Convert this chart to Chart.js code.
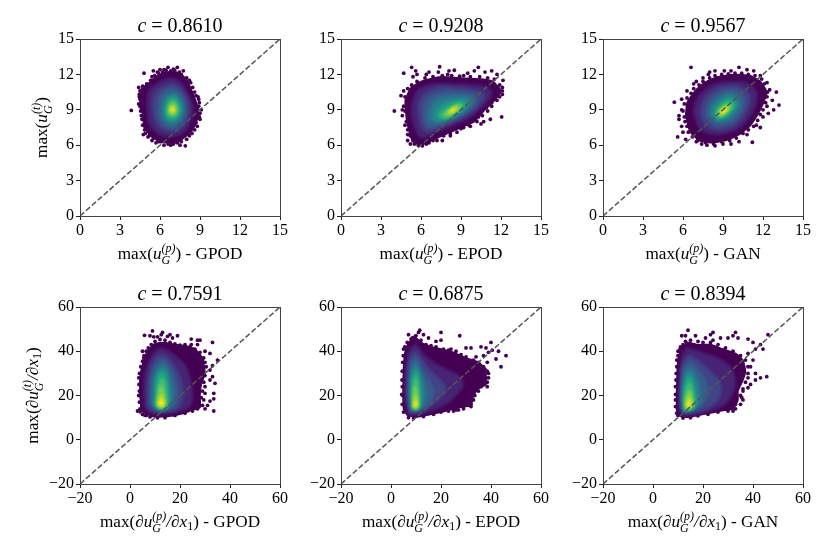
<!DOCTYPE html>
<html><head><meta charset="utf-8">
<style>html,body{margin:0;padding:0;background:#fff;width:830px;height:554px;overflow:hidden}canvas{position:absolute;filter:blur(0.4px)}</style>
<script src="https://cdn.jsdelivr.net/npm/chart.js@4"></script>
</head><body>
<script>
const coefficients=["0.8610","0.9208","0.9567","0.7591","0.6875","0.8394"];
const methods=["GPOD","EPOD","GAN"];
const ticksU=[0,3,6,9,12,15];
const ticksGrad=[-20,0,20,40,60];
const densityColors=['#440154','#482475','#414487','#355f8d','#2a788e','#21918c','#22a884','#44bf70','#7ad151','#bddf26','#fde725'];

const contoursUGpod=[
[4.6,10.8,5.2,11.3,5.8,11.9,6.5,12.2,7.2,12.2,7.8,11.8,8.2,11.1,8.6,10,8.9,9,8.8,8.2,8.5,7.4,7.9,6.7,7.2,6.2,6.5,6.2,5.8,6.4,5.2,6.9,4.8,7.6,4.7,8.6,4.5,9.6],
[5,9.5,5.2,10.7,6,11.4,6.9,11.7,7.6,11.3,8.1,10.4,8.5,9.2,8.3,8,7.8,7.1,6.9,6.7,5.9,6.9,5.2,7.8],
[5.4,9.3,5.6,10.4,6.3,11,7,11.2,7.6,10.8,8.1,9.8,8.2,8.8,7.9,7.8,7.2,7.2,6.4,7.2,5.7,7.9],
[5.8,9.2,6,10.2,6.5,10.7,7,10.8,7.6,10.4,7.9,9.4,7.9,8.5,7.5,7.7,6.9,7.4,6.3,7.6,5.9,8.3],
[6.1,9.1,6.3,10,6.8,10.4,7.2,10.4,7.6,9.8,7.8,9,7.6,8.2,7.1,7.8,6.6,7.8,6.2,8.3],
[6.3,9.1,6.45,9.8,6.85,10.2,7.25,10.1,7.55,9.5,7.65,8.9,7.4,8.3,7,8,6.6,8.1,6.35,8.5],
[6.45,9.1,6.6,9.7,6.9,10,7.2,9.9,7.45,9.4,7.5,8.9,7.3,8.4,6.95,8.2,6.6,8.3,6.45,8.7],
[6.55,9.1,6.7,9.6,6.95,9.8,7.2,9.6,7.35,9.1,7.3,8.6,7,8.4,6.7,8.45,6.55,8.75],
[6.65,9,6.75,9.4,6.95,9.55,7.15,9.4,7.25,9,7.15,8.65,6.9,8.55,6.7,8.7],
[6.72,9,6.8,9.25,6.95,9.35,7.1,9.2,7.12,8.9,6.95,8.75,6.78,8.8],
[6.82,9,6.9,9.15,7.02,9.1,7.05,8.92,6.9,8.85]];
const scatterUGpod=[3.85,8.95,4.8,12.1,5.5,12.3,6,12.4,6.6,12.6,7.3,12.6,7.75,12.3,7.9,5.95,7.5,6,6.8,6,6.3,6,5.7,6.2,5.4,6.4,4.9,7,4.75,6.9,4.4,10.9,4.5,9.9,4.4,9.5,4.45,10.3,8.9,9.9,9.1,9,9,8.2,8.8,7.6,8.4,7,8.2,6.8,8.9,9.3,4.6,9.2,4.65,8.2,4.9,7.5,5.1,6.7,5.9,12.1,5.4,11.8,7.1,12.35,6.3,12.4,8.3,11.3,8.7,10.2,
4.5,10.6,4.7,11,5,11.2,5.3,11.5,5.6,11.9,5.8,12.2,6.2,12.2,6.45,12.35,6.8,12.3,7,12.45,7.45,12.2,7.6,12,8,11.7,8.2,11.5,8.45,10.9,8.6,10.5,8.85,10.1,8.95,9.6,9,8.7,8.95,8.4,8.7,7.9,8.6,7.3,8.3,7.2,8,6.5,7.6,6.3,7.3,6.2,7,6.1,6.6,6.1,6.1,6.3,5.9,6.3,5.5,6.6,5.2,6.8,4.85,7.3,4.7,7.7,4.6,8.5,4.55,8.9,4.5,9.3,4.45,10.1];

const contoursUEpod=[
[4.8,9.8,5.2,10.8,6,11.4,7.5,11.8,9,11.7,10.5,11.6,11.4,11.4,12,10.6,11.6,9.9,10.8,9,10,8,9,7.5,8,7,7,6.5,6,6,5.4,6.3,5.1,7.2,4.9,8.3],
[5.3,9.5,5.7,10.6,6.8,11.2,8.5,11.2,10.2,11.1,11.2,10.8,11.2,10,10.4,9,9.5,8.2,8.3,7.6,7,7,6,6.6,5.6,7.3,5.3,8.4],
[5.8,9.5,6.2,10.3,7.2,10.9,8.6,10.9,10,10.7,10.8,10.3,10.4,9.4,9.6,8.6,8.5,8,7.3,7.4,6.4,7.1,5.9,8],
[6.2,9.2,6.6,10,7.5,10.5,8.8,10.5,10,10.3,10.2,9.7,9.6,8.9,8.6,8.2,7.4,7.7,6.6,7.5,6.2,8.3],
[6.6,8.9,7,9.7,7.9,10.1,9,10.2,9.9,9.9,9.6,9.1,8.8,8.5,7.8,8,7,7.9,6.6,8.2],
[6.9,8.6,7.3,9.3,8.2,9.8,9.2,9.9,9.6,9.6,9.2,9,8.6,8.5,7.7,8.1,7.1,8.1],
[7.2,8.5,7.6,9.1,8.4,9.6,9.2,9.7,9.3,9.3,8.8,8.8,8.1,8.3,7.5,8.2],
[7.4,8.5,7.9,9,8.6,9.5,9.1,9.5,9,9.1,8.5,8.7,7.9,8.3],
[7.7,8.6,8.1,9,8.6,9.35,8.95,9.35,8.8,9,8.4,8.7,8,8.5],
[7.95,8.75,8.3,9.05,8.65,9.25,8.75,9.1,8.4,8.85,8.1,8.65],
[8.15,8.85,8.4,9.05,8.6,9.12,8.55,8.98,8.3,8.82]];
const scatterUEpod=[4,8.9,4.6,9,4.7,12.1,5.3,12.6,5.6,12.3,5.4,11.8,5.7,12,6.4,12,6.6,12.2,7.3,12.2,7.4,12.65,8,12,8.1,12.3,8.5,12.35,9.5,12.1,9.2,11.9,10,12.3,10.3,12.6,10.8,12.2,11.3,12.3,11.7,12,12.15,11.5,12.1,10.6,11.9,10.1,11.3,9.6,10.9,9.2,12.05,8.4,11.2,8.2,10.7,8,10.5,7.8,9.6,7.7,9,7.4,8.2,6.8,7.6,6.4,6.6,6.2,6.1,5.95,5.5,6.1,5.2,6.1,5,6.4,5,6.9,4.8,7.7,4.6,8.5,4.5,10.2,4.7,10.6,9.5,8,10.3,8.4,
4.7,9.3,4.8,10.1,5,10.8,5.3,11.1,5.7,11.4,6.3,11.7,6.9,11.8,7.6,11.9,8.3,11.9,8.9,11.85,9.7,11.8,10.4,11.8,11,11.7,11.5,11.6,11.9,11.1,12.1,10.9,12.1,10.3,11.7,9.8,11.3,9.3,11,8.9,10.6,8.5,10.2,8,9.7,7.6,9.2,7.5,8.7,7.1,8.2,7,7.7,6.8,7.2,6.4,6.9,6.4,6.4,6.1,5.8,6,5.4,6.4,5.2,6.8,5,7.3,4.9,8,4.8,8.9];

const contoursUGan=[
[6.2,8.5,6.3,9.6,6.9,10.6,7.6,11.3,8.6,11.8,9.8,12,11,11.9,11.8,11.4,12.3,10.5,12,9.5,11.6,8.6,11,7.6,10.2,6.9,9.2,6.4,8.2,6.2,7.2,6.4,6.5,7.2],
[6.8,8.6,6.9,9.6,7.5,10.6,8.4,11.2,9.6,11.4,10.8,11.3,11.5,10.6,11.5,9.6,11,8.4,10.3,7.5,9.3,7,8.2,6.9,7.3,7.3],
[7.3,8.6,7.5,9.7,8.2,10.6,9.2,11,10.4,10.9,11,10.2,10.9,9.2,10.4,8.2,9.6,7.5,8.5,7.3,7.7,7.7],
[7.7,8.6,7.9,9.6,8.5,10.3,9.4,10.7,10.3,10.5,10.6,9.8,10.4,8.8,9.8,8,9,7.7,8.2,7.8],
[8,8.6,8.2,9.5,8.8,10.1,9.5,10.4,10.1,10.1,10.3,9.5,10,8.7,9.4,8.1,8.6,8],
[8.2,8.6,8.4,9.3,9,9.9,9.6,10.1,10,9.8,10,9.2,9.6,8.6,9,8.2,8.5,8.1],
[8.4,8.6,8.6,9.2,9.1,9.7,9.6,9.85,9.9,9.5,9.7,9,9.3,8.5,8.8,8.3],
[8.5,8.6,8.7,9.1,9.2,9.55,9.6,9.6,9.7,9.3,9.5,8.9,9.1,8.5,8.7,8.35],
[8.6,8.6,8.8,9.05,9.25,9.4,9.55,9.4,9.5,9.05,9.15,8.7,8.8,8.45],
[8.7,8.7,8.95,9.05,9.3,9.25,9.4,9.05,9.1,8.75,8.85,8.6],
[8.85,8.8,9.05,9.05,9.25,9.1,9.15,8.9,8.95,8.72]];
const scatterUGan=[5.35,9.65,5.7,8.5,5.7,8.2,5.6,6.7,6,7.1,6.6,12.6,6.3,10.6,6.8,11.2,7,11.4,7.5,11.7,7.9,12,8,12.2,8.4,12.3,9.1,12.3,9.6,12.3,10.2,12.6,10.8,12.4,11.3,12.3,11.8,11.9,12.3,11.3,12.5,10.7,13,10.5,13.2,9.4,12.7,9.8,12.8,9,12.3,9.3,12,8.4,11.8,7.5,11.5,7.7,11.2,6.25,10.8,6.9,10.2,6.3,9.6,6.1,9,6.1,8.4,5.95,7.8,6,7.4,6.1,7,6.3,6.2,6.5,5.9,7.6,5.9,9,5.9,9.9,12.4,8.7,
6.1,8.4,6,8.9,6.1,9.5,6.3,10,6.6,10.4,6.8,10.8,7.2,11.1,7.5,11.4,8,11.7,8.4,11.9,8.9,12,9.4,12.05,9.9,12.1,10.4,12.1,10.9,12,11.4,11.9,11.9,11.6,12.1,11.2,12.35,10.5,12.3,10.1,12.2,9.6,12,9,11.8,8.6,11.6,8.1,11.3,7.6,10.9,7.3,10.5,7,10,6.6,9.5,6.4,8.9,6.3,8.3,6.1,7.7,6.2,7.1,6.4,6.7,6.7,6.4,7.1,6.3,7.6,6.15,8];

const contoursGradGpod=[
[4.5,13,4,20,4,28,5,34,7,40,10,43.5,14,44,18,43,22,42.5,26,41,29,37,30,30,28.5,25,28,20,28,14.5,24,13,20,11.5,15,10.5,9,10.5,6,12],
[6,14,5.5,22,6,30,8,37,11,41,14,41,18,38,22,34,24,28,25,21,24,15,19,12.5,13,11.5,8,12],
[7,15,7,24,8,32,10,37,13,38.5,16,36,19,31,21,25,21,18,19,14,13,12.5,9,13],
[8,16,8,24,9,31,11,35,13.5,36,16,33,18,28,19,21,18,15.5,13.5,13,10,13.5],
[9,16,9,25,10,30,12,33.5,14,33.5,16,29,17,23,17,17,14,13.5,11,13.5],
[9.5,15.5,10,24,10.5,29,12.5,32,14.5,31,15.5,26,16,20,15.5,15.5,13,13.5],
[10,15.5,10.5,22,11,28,12.5,30.5,14,29,15,24,15.5,18,14.5,14.5,12,14],
[10.5,15.5,11,22,11.5,26,12.7,28,14,26,14.5,21,14.8,17,14,14.5,12,14.3],
[10.8,16,11.3,21,12.3,24.5,13.5,22.5,14,19,14.2,16,13.2,14.6,11.8,14.6],
[11,16.3,11.8,19.5,12.8,20.5,13.6,18,13.7,16,12.8,15,11.7,15],
[11.4,16.3,12.2,18,13.2,17.5,13.3,16,12.4,15.4]];
const scatterGradGpod=[5.8,47.2,8,47,9,49.2,9.5,46.5,11,46.5,12.5,47.5,13,48.5,15,46.7,16,47.5,19,47,17,46,24.5,45.5,27,45,28,45,24.5,43,27,43,33,44,30,40,32,39,35,36,33,33.5,30,35,32,31.5,33,28.5,32,27,34,25.5,33.5,21,30,24,30,21,28.5,19,33.5,18.5,32,17.5,31,15.5,33.5,13,30,14,4,12.7,3,13,5,11.5,6.5,11,3.5,20,3.5,28,5,40,5.5,37,
4,14,3.8,17,3.7,22,3.6,25,3.8,30,4.3,33,5,35.5,5.6,38,6.5,40,7.3,41.5,8.5,43,10,44.5,12,45.3,14,45,16,44,18,43.3,20,42.8,22,43,24,42,26,41,28,39.5,29.5,37,30.5,33,30,29,29.5,26,29,22,29.5,18,29,15.5,27,14,25,13,22,12,18,11,14,10,11,9.9,8,10.3,6,11];

const contoursGradEpod=[
[6.5,11,5,14,4.8,22,5,32,5.5,39,7,44,10,46,12,44,16,42,20,41,25,39.5,30,37,35,35,38,32,38,29,38,25,35,23,33,20,32,15.5,27,14.5,22,13,16,11.5,10,10.2],
[7,11.5,5.8,16,5.5,24,6,34,7.5,41,10,43,13,39,17,35,22,32,27,29,29,25,26,20,22,16,16,13,10,11],
[7.5,12,6.5,18,6.5,28,7.5,37,10,40,12.5,36,16,31,20,27,22,23,19,18,14,14,10,12],
[8,13,7,20,7.2,30,8.5,36,10,37.5,12,33,14.5,28,17,23,16,17,12.5,13.5],
[8,13.5,7.5,20,8,30,9.5,35,11,33,13,27,14,21,13,16,11,13.5],
[8.3,14,8,21,8.3,29,9.7,33,11,31,12,26,12.5,20,12,15,10.5,13.5],
[8.5,14,8.3,22,8.8,28,9.8,31,11,28.5,11.5,23,11.7,18,11.3,14.5,10,13.5],
[8.7,14.5,8.6,21,9.2,27,10,28.5,10.8,25,11.2,20,11.2,15.5,10,14],
[8.9,14.5,8.9,20,9.5,24.5,10.3,22.5,10.8,18,10.8,15,10,14.2],
[9,15,9.3,18.5,9.9,20.5,10.4,18,10.5,15.5,9.9,14.5],
[9.3,15.3,9.6,17.5,10.1,17,10.2,15.5,9.8,14.8]];
const scatterGradEpod=[7,47.5,8.5,46,10,47,11,48.5,11.5,49.5,13,47.5,15,46,20,48.5,18,44.5,27.5,47,20,45,24,41,30,41.5,32,41.5,34,37.5,37,38,39,39.5,40,44,43,40,46,38,44,33,42,36.5,40.5,40.5,38,41.5,36,42,38.5,35,39,30,38,28,38.5,26,36,24,34,27,31,24,31,19,32,16,32,15,29,14,27,13.5,25,13,4.7,20,4.5,24,5,41,
5,12.5,4.5,16,4.3,20.5,4.4,27,4.5,31,4.7,35,4.9,38,5.5,42,6.5,44,8,45.5,9.5,46.5,12,45,14,43,16,42.5,18,42,21,41,23,40.5,26,40,28,38.5,30,37.5,33,36,35,35,37,33,38.5,31,39,28,38.5,24,35,22,33.5,20,33,18,31.5,15.5,29,15,26,13.5,23,13,20,12.5,17,11.5,13,10.5,9,9.8,7,10];

const contoursGradGan=[
[11,10.5,9.5,13,9.5,24,10,36,11.5,42,14,44,18,43,23,43,28,41,33,39,36,36,37,31,36,27,34,22,34,18,32,14,27,13,20,11.5,14,10.2],
[11.5,11,10.3,14,10.3,24,11,35,13,41,16,41,21,39,26,37,31,33,33,27,32,21,29,16,23,13,16,11],
[12,12,11,16,11,26,12,35,14.5,38,18,36,23,31,27,26,27,20,24,15.5,19,13,14,12],
[12,12.5,11.3,18,11.7,28,13,34,15,35,18,32,21,27,22,21,20,16,16,13],
[12.2,13,11.7,18,12,27,13.5,32,15.5,32,17.5,28,19,23,19,17,16,13.5],
[12.3,13.2,12,18,12.7,26,14,30,15.5,29.5,17,25,17.8,19,17,15,14.5,13.2],
[12.5,13.5,12.3,18,13,25,14.3,28.5,15.5,27,16.5,22,17,17,16,14.3,14,13.5],
[12.8,13.7,12.7,18,13.4,23.5,14.5,26,15.5,24,16.2,19,16.3,15.5,15,13.8],
[13,14.2,13,18,13.8,21.5,15,22,15.7,18.5,15.8,15.5,14.5,14],
[13.3,14.8,13.5,17.5,14.3,19.5,15.2,18.5,15.4,16,14.5,14.5],
[13.7,15.2,14,17,14.7,17.5,15,16,14.4,15]];
const scatterGradGan=[11.5,47,13,47,14,49.5,17,47,21,46,24,45,24,48.5,23,47.5,27,46,30,46,32,47,33,48.5,34,46,38,45.5,40,44,43,43,46,47.5,44,41,41,41,38,39,40,36,39,33,41,30,41,27,43,28,45.5,28.5,38,28,39,25,38,23.5,36,23,35,20,36,18,33,16,32,13,30,13.5,9,20.5,9,24,10,12,9.5,36,10,40,11,42,
10,11,9.5,12,9,15,9,18,9.2,27,9.3,30,9.5,33,10,38,10.8,41,12,43,13,44.5,15,45,18,44.5,20,44,23,44,26,43,29,41.5,32,40,35,38,37,36,38,33,38,30,37,26,36,22,35.5,19,35,16,33,14,30,13,26,12.5,22,11.5,18,10.8,15,10,12,9.8];

const contourSets=[contoursUGpod,contoursUEpod,contoursUGan,contoursGradGpod,contoursGradEpod,contoursGradGan];
const scatterSets=[scatterUGpod,scatterUEpod,scatterUGan,scatterGradGpod,scatterGradEpod,scatterGradGan];

const pairs=f=>{const r=[];for(let i=0;i<f.length;i+=2)r.push({x:f[i],y:f[i+1]});return r;};
const closed=f=>{const r=pairs(f);r.push(r[0]);return r;};

const SERIF='"Liberation Serif"';
function rich(ctx,segs,x,y,rot,size){
  const fonts=s=>`${s.i?'italic ':''}${Math.round((s.small?0.7:1)*size*10)/10}px ${SERIF}`;
  let w=0;
  const adv=s=>{ctx.font=fonts(s);return ctx.measureText(s.t).width;};
  segs.forEach(s=>{if(s.stack){w+=Math.max(...s.stack.map(adv));}else w+=adv(s);});
  ctx.save();ctx.translate(x,y);ctx.rotate(rot);ctx.textBaseline='alphabetic';ctx.textAlign='left';ctx.fillStyle='#000';
  let cx=-w/2;
  segs.forEach(s=>{
    if(s.stack){let m=0;s.stack.forEach(k=>{ctx.font=fonts(k);ctx.fillText(k.t,cx,k.dy*size);m=Math.max(m,ctx.measureText(k.t).width);});cx+=m;}
    else{ctx.font=fonts(s);ctx.fillText(s.t,cx,0);cx+=ctx.measureText(s.t).width;}
  });
  ctx.restore();
}
function labelSegs(isGrad,kind,suffix){
  const st={stack:[{t:kind,small:1,i:1,dy:-0.42},{t:'G',small:1,i:1,dy:0.3}]};
  const s=[{t:'max('}];
  if(isGrad){s.push({t:'∂u',i:1},st,{t:'/∂x',i:1},{stack:[{t:'1',small:1,dy:0.2}]});}
  else{s.push({t:'u',i:1},st);}
  s.push({t:')'+suffix});
  return s;
}
const axLeft=[80,341,603],axTop=[39,307];
for(let p=0;p<6;p++){
  const col=p%3,row=Math.floor(p/3),isGrad=row===1;
  const ticks=isGrad?ticksGrad:ticksU,lo=ticks[0],hi=ticks[ticks.length-1];
  const c=document.createElement('canvas');c.width=290;c.height=272;
  c.style.left=(axLeft[col]-60)+'px';c.style.top=(axTop[row]-39)+'px';c.style.width='290px';c.style.height='272px';
  document.body.appendChild(c);
  const ds=[{data:[{x:lo,y:lo},{x:hi,y:hi}],showLine:true,pointRadius:0,borderColor:'#555',borderWidth:1.5,borderDash:[5.5,2.4],order:0,fill:false}];
  contourSets[p].forEach((f,i)=>ds.push({data:closed(f),showLine:true,pointRadius:0,tension:i===0?0.15:0.35,fill:'shape',backgroundColor:densityColors[i],borderColor:densityColors[i],borderWidth:i===0?1.5:0.5,order:12-i}));
  ds.push({data:pairs(scatterSets[p]),showLine:false,pointRadius:1.9,pointBorderWidth:0,pointBackgroundColor:densityColors[0],order:13});
  const axis=(pos)=>({type:'linear',position:pos,min:lo,max:hi,
    afterBuildTicks:a=>{a.ticks=ticks.map(v=>({value:v}));},
    grid:{drawOnChartArea:false,drawTicks:true,tickLength:4,tickColor:'#222',tickWidth:1},
    border:{display:true,color:'#222',width:1},
    ticks:{autoSkip:false,maxRotation:0,minRotation:0,padding:pos==='bottom'?1:2,color:'#000',font:{family:SERIF,size:16},callback:v=>String(v).replace('-','\u2212')},
    afterFit:a=>{if(pos==='left')a.width=32;else a.height=30;}});
  const frame={id:'frame',
  afterDatasetDraw(ch,args){
    const ctx=ch.ctx;
    if(args.index===1)ctx.filter='blur(1.6px)';
    if(args.index===11)ctx.filter='none';
  },
  afterDatasetsDraw(ch){ch.ctx.filter='none';},
  afterDraw(ch){
    const a=ch.chartArea,ctx=ch.ctx;
    ctx.save();ctx.strokeStyle='#444';ctx.lineWidth=1;ctx.strokeRect(Math.round(a.left)+.5,Math.round(a.top)+.5,Math.round(a.width),Math.round(a.height));ctx.restore();
    const cx=(a.left+a.right)/2;
    rich(ctx,[{t:'c',i:1},{t:' = '+coefficients[p]}],cx,a.top-7,0,20);
    rich(ctx,labelSegs(isGrad,'(p)',' - '+methods[col]),cx,a.bottom+43,0,17.2);
    if(col===0)rich(ctx,labelSegs(isGrad,'(t)',''),a.left-(isGrad?42:33),(a.top+a.bottom)/2,-Math.PI/2,17.2);
  }};
  new Chart(c,{type:'scatter',data:{datasets:ds},plugins:[frame],options:{
    responsive:false,animation:false,events:[],devicePixelRatio:1,
    layout:{padding:{left:28,top:39,right:30,bottom:26}},
    plugins:{legend:{display:false},tooltip:{enabled:false},title:{display:false}},
    scales:{x:axis('bottom'),y:axis('left')}}});
}
</script>
</body></html>
